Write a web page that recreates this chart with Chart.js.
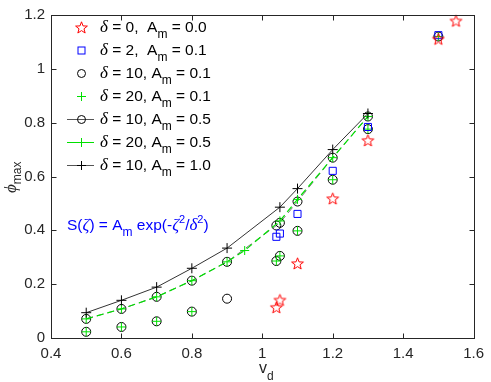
<!DOCTYPE html>
<html>
<head>
<meta charset="utf-8">
<script src="https://cdn.jsdelivr.net/npm/chart.js@4.4.0/dist/chart.umd.min.js"></script>
<style>
  html, body { margin: 0; padding: 0; background: #fff; }
  canvas { display: block; }
</style>
</head>
<body>
<canvas id="chart" width="491" height="382"></canvas>
<script>
// tick labels
const xTicks = [0.4, 0.6, 0.8, 1, 1.2, 1.4, 1.6];
const yTicks = [0, 0.2, 0.4, 0.6, 0.8, 1, 1.2];

// delta = 0, Am = 0.0
const vdD0 = [1.04, 1.05, 1.1, 1.2, 1.3, 1.5, 1.55];
const phiD0 = [0.114, 0.141, 0.277, 0.518, 0.734, 1.111, 1.178];
// delta = 2, Am = 0.1
const vdD2 = [1.04, 1.05, 1.1, 1.2, 1.3, 1.5];
const phiD2 = [0.376, 0.388, 0.461, 0.621, 0.784, 1.125];
// delta = 10, Am = 0.1
const vdD10a = [0.5, 0.6, 0.7, 0.8, 0.9, 1.04, 1.05, 1.1, 1.2, 1.3, 1.5];
const phiD10a = [0.023, 0.041, 0.062, 0.098, 0.146, 0.286, 0.305, 0.398, 0.588, 0.776, 1.12];
// delta = 20, Am = 0.1
const vdD20a = [0.5, 0.6, 0.7, 0.8, 1.04, 1.05, 1.1, 1.2, 1.3, 1.5];
const phiD20a = [0.023, 0.041, 0.062, 0.098, 0.286, 0.305, 0.398, 0.588, 0.776, 1.12];
// delta = 10, Am = 0.5
const vdD10b = [0.5, 0.6, 0.7, 0.8, 0.9, 1.04, 1.05, 1.1, 1.2, 1.3];
const phiD10b = [0.071, 0.108, 0.153, 0.213, 0.283, 0.418, 0.428, 0.507, 0.670, 0.823];
// delta = 20, Am = 0.5
const vdD20b = [0.5, 0.6, 0.7, 0.8, 0.9, 0.95, 1.05, 1.1, 1.2, 1.3];
const phiD20b = [0.071, 0.108, 0.153, 0.213, 0.283, 0.325, 0.435, 0.515, 0.670, 0.823];
// delta = 10, Am = 1.0
const vdD10c = [0.5, 0.6, 0.7, 0.8, 0.9, 1.05, 1.1, 1.2, 1.3];
const phiD10c = [0.094, 0.140, 0.189, 0.259, 0.334, 0.486, 0.555, 0.700, 0.834];

const SANS = "'Liberation Sans', Arial, sans-serif";
const SERIF = "'Liberation Serif', 'Times New Roman', serif";
const AXIS_COLOR = '#262626';
const GREEN = '#00e000';
const DASH = [7, 4];

function pts(xs, ys) {
    return xs.map((x, i) => ({ x: x, y: ys[i] }));
}

// hollow five point star, like matlab 'p'
function makeStar(r, color) {
    const size = Math.ceil(r * 2 + 4);
    const c = document.createElement('canvas');
    c.width = size;
    c.height = size;
    const g = c.getContext('2d');
    g.strokeStyle = color;
    g.lineWidth = 1;
    g.beginPath();
    for (let i = 0; i < 10; i++) {
        const rr = i % 2 ? r * 0.42 : r;
        const a = -Math.PI / 2 + i * Math.PI / 5;
        const px = size / 2 + rr * Math.cos(a);
        const py = size / 2 + 0.5 + rr * Math.sin(a);
        if (i === 0) g.moveTo(px, py); else g.lineTo(px, py);
    }
    g.closePath();
    g.stroke();
    return c;
}
const starImg = makeStar(6.2, '#ff0000');

// draw a run of text pieces (subscripts, italics)
function drawParts(ctx, parts, x, y) {
    parts.forEach(p => {
        ctx.font = p.f;
        ctx.fillText(p.t, x, y + (p.dy || 0));
        x += ctx.measureText(p.t).width;
    });
    return x;
}

const F_MAIN = '15.5px ' + SANS;
const F_SUB = '12px ' + SANS;
const F_IT = 'italic 17px ' + SERIF;
const F_SUP = '11px ' + SANS;

const legendItems = [
    { d: '0', sep: ',  ', am: '0.0', marker: 'star' },
    { d: '2', sep: ',  ', am: '0.1', marker: 'square' },
    { d: '10', sep: ', ', am: '0.1', marker: 'circle' },
    { d: '20', sep: ', ', am: '0.1', marker: 'plus' },
    { d: '10', sep: ', ', am: '0.5', marker: 'circle', line: '#555' },
    { d: '20', sep: ', ', am: '0.5', marker: 'plus', line: GREEN },
    { d: '10', sep: ', ', am: '1.0', marker: 'kplus', line: '#555' }
];

function drawMarker(ctx, type, x, y) {
    ctx.save();
    ctx.lineWidth = 1;
    if (type === 'star') {
        ctx.drawImage(starImg, x - starImg.width / 2, y - starImg.height / 2);
    } else if (type === 'square') {
        ctx.strokeStyle = '#0000ff';
        ctx.strokeRect(x - 3.5, y - 3.5, 7, 7);
    } else if (type === 'circle') {
        ctx.strokeStyle = '#000';
        ctx.beginPath();
        ctx.arc(x, y, 4, 0, Math.PI * 2);
        ctx.stroke();
    } else {
        ctx.strokeStyle = type === 'plus' ? GREEN : '#000';
        const r = 4.5;
        ctx.beginPath();
        ctx.moveTo(x - r, y); ctx.lineTo(x + r, y);
        ctx.moveTo(x, y - r); ctx.lineTo(x, y + r);
        ctx.stroke();
    }
    ctx.restore();
}

const decorPlugin = {
    id: 'decor',
    afterDraw(chart) {
        const ctx = chart.ctx;
        const a = chart.chartArea;
        const xs = chart.scales.x;
        const ys = chart.scales.y;
        ctx.save();

        // box and inward ticks
        ctx.strokeStyle = AXIS_COLOR;
        ctx.lineWidth = 1;
        const L = Math.round(a.left) + 0.5, R = Math.round(a.right) + 0.5;
        const T = Math.round(a.top) + 0.5, B = Math.round(a.bottom) + 0.5;
        ctx.strokeRect(L, T, R - L, B - T);
        ctx.beginPath();
        xTicks.forEach(v => {
            const px = Math.round(xs.getPixelForValue(v)) + 0.5;
            ctx.moveTo(px, B); ctx.lineTo(px, B - 5);
            ctx.moveTo(px, T); ctx.lineTo(px, T + 5);
        });
        yTicks.forEach(v => {
            const py = Math.round(ys.getPixelForValue(v)) + 0.5;
            ctx.moveTo(L, py); ctx.lineTo(L + 5, py);
            ctx.moveTo(R, py); ctx.lineTo(R - 5, py);
        });
        ctx.stroke();

        // legend
        ctx.fillStyle = '#000';
        ctx.textBaseline = 'alphabetic';
        ctx.textAlign = 'left';
        legendItems.forEach((it, i) => {
            const cy = 27 + i * 23;
            if (it.line) {
                ctx.strokeStyle = it.line;
                ctx.beginPath();
                ctx.moveTo(67, cy + 0.5); ctx.lineTo(94, cy + 0.5);
                ctx.stroke();
            }
            drawMarker(ctx, it.marker, 81.5, cy + 0.5);
            ctx.fillStyle = '#000';
            drawParts(ctx, [
                { t: '\u03b4', f: F_IT },
                { t: ' = ' + it.d + it.sep + 'A', f: F_MAIN },
                { t: 'm', f: F_SUB, dy: 6 },
                { t: ' = ' + it.am, f: F_MAIN }
            ], 100, cy + 5);
        });

        // source formula
        ctx.fillStyle = '#0000ff';
        drawParts(ctx, [
            { t: 'S(', f: F_MAIN },
            { t: '\u03b6', f: F_IT },
            { t: ') = A', f: F_MAIN },
            { t: 'm', f: F_SUB, dy: 6 },
            { t: ' exp(-', f: F_MAIN },
            { t: '\u03b6', f: F_IT },
            { t: '2', f: F_SUP, dy: -7 },
            { t: '/', f: F_MAIN },
            { t: '\u03b4', f: F_IT },
            { t: '2', f: F_SUP, dy: -7 },
            { t: ')', f: F_MAIN }
        ], 67, 230);

        // axis titles
        ctx.fillStyle = AXIS_COLOR;
        drawParts(ctx, [
            { t: 'v', f: '16px ' + SANS },
            { t: 'd', f: F_SUB, dy: 7 }
        ], 259, 373);

        ctx.save();
        ctx.translate(16, 193);
        ctx.rotate(-Math.PI / 2);
        drawParts(ctx, [
            { t: '\u03d5', f: F_IT },
            { t: 'max', f: F_SUB, dy: 5 }
        ], 0, 0);
        ctx.restore();

        ctx.restore();
    }
};

const ctx = document.getElementById('chart').getContext('2d');
new Chart(ctx, {
    type: 'scatter',
    data: {
        datasets: [
            {
                label: 'delta=0, Am=0.0',
                data: pts(vdD0, phiD0),
                pointStyle: starImg,
                showLine: false,
                order: 0
            },
            {
                label: 'delta=2, Am=0.1',
                data: pts(vdD2, phiD2),
                pointStyle: 'rect',
                pointRadius: 5,
                borderColor: '#0000ff',
                backgroundColor: 'rgba(0,0,0,0)',
                pointBorderWidth: 1,
                showLine: false,
                order: 1
            },
            {
                label: 'delta=20, Am=0.1',
                data: pts(vdD20a, phiD20a),
                pointStyle: 'cross',
                pointRadius: 4.5,
                borderColor: GREEN,
                pointBorderWidth: 1,
                showLine: false,
                order: 2
            },
            {
                label: 'delta=10, Am=0.1',
                data: pts(vdD10a, phiD10a),
                pointStyle: 'circle',
                pointRadius: 4.5,
                borderColor: '#000',
                backgroundColor: 'rgba(0,0,0,0)',
                pointBorderWidth: 1,
                showLine: false,
                order: 3
            },
            {
                label: 'delta=10, Am=1.0',
                data: pts(vdD10c, phiD10c),
                pointStyle: 'cross',
                pointRadius: 5,
                borderColor: '#333',
                pointBorderColor: '#000',
                pointBorderWidth: 1,
                showLine: true,
                borderWidth: 1,
                tension: 0,
                order: 4
            },
            {
                label: 'delta=20, Am=0.5',
                data: pts(vdD20b, phiD20b),
                pointStyle: 'cross',
                pointRadius: 4.5,
                borderColor: GREEN,
                pointBorderWidth: 1,
                showLine: true,
                borderWidth: 1.2,
                borderDash: DASH,
                tension: 0,
                order: 5
            },
            {
                label: 'delta=10, Am=0.5',
                data: pts(vdD10b, phiD10b),
                pointStyle: 'circle',
                pointRadius: 4.5,
                borderColor: '#555',
                pointBorderColor: '#000',
                backgroundColor: 'rgba(0,0,0,0)',
                pointBorderWidth: 1,
                showLine: true,
                borderWidth: 0.8,
                borderDash: DASH,
                tension: 0,
                order: 6
            }
        ]
    },
    options: {
        responsive: false,
        animation: false,
        events: [],
        layout: { padding: { top: 7, right: 10, left: 0, bottom: 0 } },
        plugins: {
            legend: { display: false },
            tooltip: { enabled: false }
        },
        elements: { point: { hoverRadius: 0 } },
        datasets: { scatter: { clip: false } },
        scales: {
            x: {
                type: 'linear',
                min: 0.4,
                max: 1.6,
                afterBuildTicks: s => { s.ticks = xTicks.map(v => ({ value: v })); },
                afterFit: s => { s.height = 44; },
                grid: { display: false, drawTicks: false },
                border: { display: false },
                ticks: {
                    padding: 7,
                    color: AXIS_COLOR,
                    font: { family: SANS, size: 15 },
                    callback: v => String(v)
                }
            },
            y: {
                type: 'linear',
                min: 0,
                max: 1.2,
                afterBuildTicks: s => { s.ticks = yTicks.map(v => ({ value: v })); },
                afterFit: s => { s.width = 51; },
                grid: { display: false, drawTicks: false },
                border: { display: false },
                ticks: {
                    padding: 6,
                    color: AXIS_COLOR,
                    font: { family: SANS, size: 15 },
                    callback: v => String(v)
                }
            }
        }
    },
    plugins: [decorPlugin]
});
</script>
</body>
</html>
